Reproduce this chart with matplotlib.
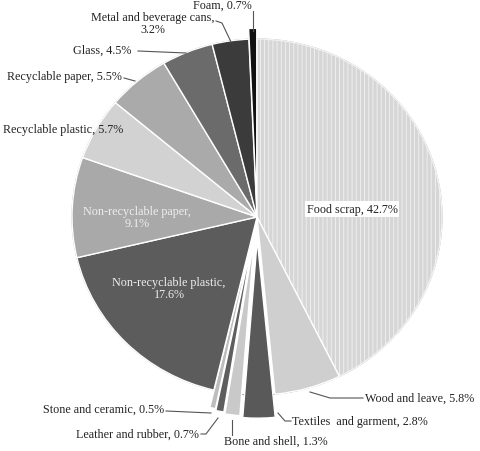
import matplotlib.pyplot as plt

plt.rcParams["font.family"] = "Liberation Serif"
plt.rcParams["hatch.linewidth"] = 0.6

# Data (clockwise from 12 o'clock)
categories = [
    "Food scrap", "Wood and leave", "Textiles  and garment", "Bone and shell",
    "Leather and rubber", "Stone and ceramic", "Non-recyclable plastic",
    "Non-recyclable paper", "Recyclable plastic", "Recyclable paper",
    "Glass", "Metal and beverage cans", "Foam",
]
shares = [42.7, 5.8, 2.8, 1.3, 0.7, 0.5, 17.6, 9.1, 5.7, 5.5, 4.5, 3.2, 0.7]
colors = [
    "#d6d6d6", "#cfcfcf", "#595959", "#c9c9c9", "#5e5e5e", "#bdbdbd",
    "#5c5c5c", "#a9a9a9", "#d2d2d2", "#aaaaaa", "#6b6b6b", "#3b3b3b", "#111111",
]
explode = [0, 0, 0.13, 0.12, 0.11, 0.10, 0, 0, 0, 0, 0, 0, 0.06]

fig = plt.figure(figsize=(4.81, 4.52), dpi=100)
ax = fig.add_axes([0, 0, 1, 1])
RX, RY = 185.0, 178.0  # px per unit radius (image slightly stretched)
CX, CY = 257, 218

def px(x, y):
    # pixel (from top-left) -> data coords
    return ((x - CX) / RX, (CY - y) / RY)

wedges, _ = ax.pie(
    shares, colors=colors, startangle=90, counterclock=False,
    explode=explode, radius=1.0,
    wedgeprops=dict(edgecolor="white", linewidth=1.0),
)
wedges[0].set_hatch("||||")
wedges[0].set_edgecolor("#f2f2f2")
ax.add_patch(plt.Circle((0, 0), 1.0, fill=False, ec="#9a9a9a", lw=0.8, zorder=0.5))

ax.set_aspect("auto")
ax.set_xlim(-CX / RX, (481 - CX) / RX)
ax.set_ylim(-(452 - CY) / RY, CY / RY)
ax.axis("off")

fs = 8.7
line = dict(color="#555555", lw=0.8)

# outside labels: (index, text pos px, leader points px)
outside = [
    (12, (222, 6), [(253, 12), (253, 32)]),
    (11, (153, 24), [(216, 22), (222, 24), (231, 43)]),
    (10, (102, 51), [(138, 52), (186, 54)]),
    (9, (64, 77), [(124, 79), (135, 82)]),
    (8, (63, 130), []),
    (1, (420, 399), [(363, 399), (330, 399), (310, 393)]),
    (2, (360, 422), [(291, 422), (285, 422), (278, 414)]),
    (3, (276, 442), [(232, 436), (232, 421)]),
    (4, (137, 435), [(201, 435), (206, 435), (218, 419)]),
    (5, (104, 410), [(166, 412), (211, 414)]),
]
for i, pos, pts in outside:
    if i == 11:
        txt = f"{categories[i]},\n{shares[i]}%"
    else:
        txt = f"{categories[i]}, {shares[i]}%"
    x, y = px(*pos)
    ax.text(x, y, txt, ha="center", va="center", fontsize=fs, color="#222222",
            linespacing=1.0)
    if pts:
        xs, ys = zip(*[px(*p) for p in pts])
        ax.plot(xs, ys, **line)

# inside labels
x, y = px(137, 218)
ax.text(x, y, f"{categories[7]},\n{shares[7]}%", ha="center", va="center",
        fontsize=fs, color="#eeeeee", linespacing=1.1)
x, y = px(169, 289)
ax.text(x, y, f"{categories[6]},\n{shares[6]}%", ha="center", va="center",
        fontsize=fs, color="#eeeeee", linespacing=1.1)
x, y = px(352, 210)
ax.text(x, y, f"{categories[0]}, {shares[0]}%", ha="center", va="center",
        fontsize=fs, color="#222222",
        bbox=dict(facecolor="white", edgecolor="none", pad=1.5))

fig.savefig("out.png", dpi=100)
